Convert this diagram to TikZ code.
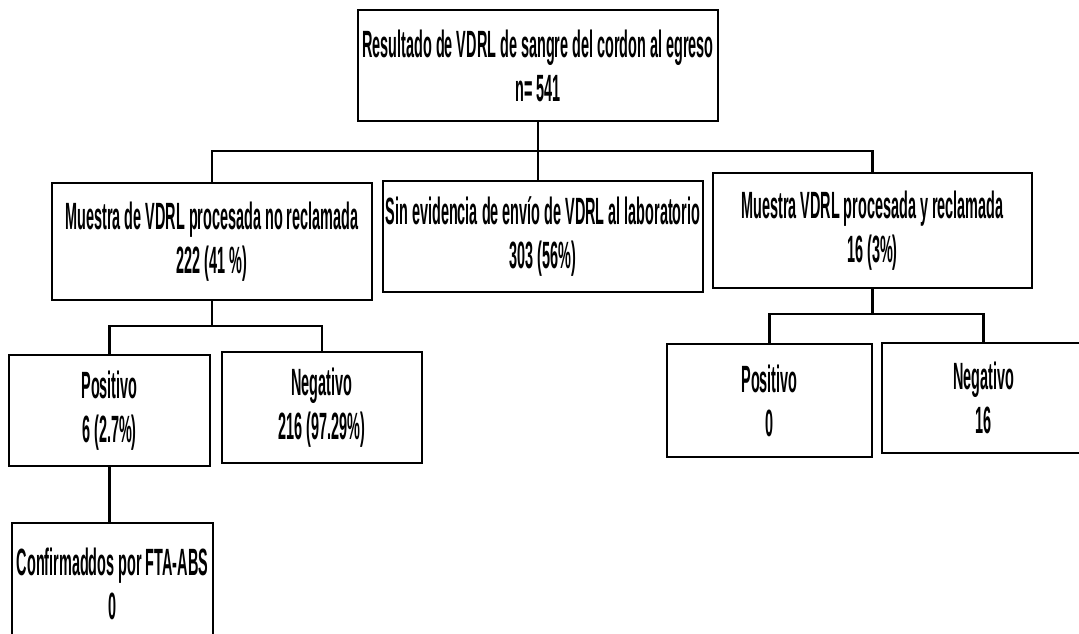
\documentclass[tikz,border=0pt]{standalone}
\usepackage{fontspec}
\newfontfamily\cf{Liberation Sans}[FakeStretch=0.38,UprightFont={* Bold}]
\begin{document}
\begin{tikzpicture}[x=1pt,y=-1pt,
  box/.style={draw=black,line width=2.2pt,inner sep=0pt,align=center,
    font=\cf\fontsize{38}{44}\selectfont},
  link/.style={draw=black,line width=2.2pt}]
\useasboundingbox[fill=white] (0,0) rectangle (1079,633);
% level 0
\node[box,minimum width=360pt,minimum height=111pt] (root) at (538,65.5)
  {Resultado de VDRL de sangre del cordon al egreso\\n= 541};
% level 1
\node[box,minimum width=320pt,minimum height=117pt] (left) at (212,241.5)
  {Muestra de VDRL procesada no reclamada\\222 (41 \%)};
\node[box,minimum width=320pt,minimum height=111pt] (mid) at (543,236.5)
  {Sin evidencia de envío de VDRL al laboratorio\\303 (56\%)};
\node[box,minimum width=319pt,minimum height=115pt] (right) at (872.5,230.5)
  {Muestra VDRL procesada y reclamada\\16 (3\%)};
% level 2 left
\node[box,minimum width=201pt,minimum height=111pt] (lpos) at (109.5,410.5)
  {Positivo\\6 (2.7\%)};
\node[box,minimum width=200pt,minimum height=111pt] (lneg) at (322,407.5)
  {Negativo\\216 (97.29\%)};
% level 2 right
\node[box,minimum width=205pt,minimum height=113pt] (rpos) at (769.5,400.5)
  {Positivo\\0};
\node[box,minimum width=203pt,minimum height=110pt] (rneg) at (983.5,398)
  {Negativo\\16};
% level 3
\node[box,minimum width=201pt,minimum height=122pt] (conf) at (112.5,584)
  {Confirmaddos por FTA-ABS\\0};
% connectors
\coordinate (h1) at (0,151);
\coordinate (h2) at (0,326);
\coordinate (h3) at (0,314);
\draw[link] (root.south) -- (root.south |- mid.north);
\draw[link] (left.north) -- (left.north |- h1) -- (right.north |- h1) -- (right.north);
\draw[link] (left.south) -- (left.south |- h2);
\draw[link] (lpos.north) -- (lpos.north |- h2) -- (lneg.north |- h2) -- (lneg.north);
\draw[link] (right.south) -- (right.south |- h3);
\draw[link] (rpos.north) -- (rpos.north |- h3) -- (rneg.north |- h3) -- (rneg.north);
\draw[link] (lpos.south) -- (lpos.south |- conf.north);
\end{tikzpicture}
\end{document}
